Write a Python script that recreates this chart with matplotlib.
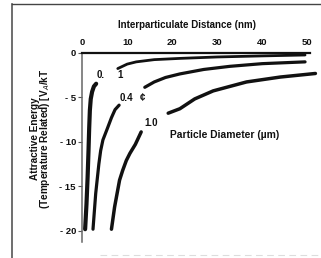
import matplotlib
matplotlib.use("Agg")
import matplotlib.pyplot as plt
from matplotlib.lines import Line2D

plt.rcParams['font.family'] = ['Liberation Sans', 'DejaVu Sans']

# interparticle distance (nm) and attractive energy (kT)
# each curve is drawn in two pieces with a gap for its label
h_01_lo = [3.1, 2.6, 2.2, 1.9, 1.7, 1.55, 1.4, 1.2, 0.95, 0.65]
v_01_lo = [-3.5, -3.8, -4.4, -5.2, -6.5, -8.5, -11.0, -14.0, -17.0, -19.8]
h_01_hi = [7.9, 10.0, 12.0, 16.0, 21.7, 30.0, 40.0, 49.5]
v_01_hi = [-1.8, -1.3, -1.05, -0.8, -0.66, -0.5, -0.38, -0.28]

h_04_lo = [8.2, 7.3, 6.5, 5.6, 4.6, 4.1, 3.7, 3.0, 2.4]
v_04_lo = [-5.9, -6.4, -7.3, -8.5, -9.8, -11.0, -12.5, -15.8, -19.8]
h_04_hi = [13.9, 16.0, 18.5, 21.7, 27.0, 32.8, 40.0, 49.5]
v_04_hi = [-3.9, -3.3, -2.8, -2.4, -1.9, -1.55, -1.25, -1.05]

h_10_lo = [13.1, 11.8, 10.6, 9.8, 9.0, 8.3, 7.2, 6.5]
v_10_lo = [-8.9, -10.3, -11.3, -12.1, -13.2, -14.3, -17.3, -19.8]
h_10_hi = [19.1, 21.7, 25.0, 29.1, 36.5, 44.0, 51.8]
v_10_hi = [-6.8, -6.3, -5.2, -4.3, -3.3, -2.75, -2.35]

xticks = [0, 10, 20, 30, 40, 50]
yticks = [0, -5, -10, -15, -20]
ytick_labels = ['0', '- 5', '- 10', '- 15', '- 20']

W, H = 321, 258
fig = plt.figure(figsize=(W / 100, H / 100), dpi=100)
ax = fig.add_axes([82.2 / W, 1 - 241.7 / H, (310 - 82.2) / W, (241.7 - 52.5) / H])

ink = '#111111'
for hx, vy, lw in [(h_01_lo, v_01_lo, 3.0), (h_01_hi, v_01_hi, 2.0),
                   (h_04_lo, v_04_lo, 2.3), (h_04_hi, v_04_hi, 2.3),
                   (h_10_lo, v_10_lo, 2.5), (h_10_hi, v_10_hi, 2.5)]:
    ax.plot(hx, vy, color=ink, lw=lw, solid_capstyle='round',
            solid_joinstyle='round', clip_on=False)

ax.set_xlim(0, 50.6)
ax.set_ylim(-21.2, 0)
ax.xaxis.tick_top()
ax.set_xticks(xticks)
ax.set_yticks(yticks)
ax.set_yticklabels(ytick_labels)
ax.tick_params(axis='x', length=0, pad=4, labelsize=6.8, labelcolor=ink)
ax.tick_params(axis='y', length=3, width=0.8, color='#555555', pad=1.5,
               labelsize=6.8, labelcolor=ink)
for lab in ax.get_xticklabels() + ax.get_yticklabels():
    lab.set_fontweight('bold')

for s in ['right', 'bottom']:
    ax.spines[s].set_visible(False)
ax.spines['top'].set_linewidth(1.6)
ax.spines['top'].set_color(ink)
ax.spines['left'].set_linewidth(1.1)
ax.spines['left'].set_color('#666666')

# curve labels
kw = dict(fontsize=7, fontweight='bold', color=ink, ha='center', va='center')
ax.text(4.2, -2.5, '0.', **kw)
ax.text(8.5, -2.5, '1', **kw)
ax.text(9.8, -5.1, '0.4', **kw)
ax.text(13.4, -5.1, '¢', **kw)
ax.text(15.4, -7.9, '1.0', **kw)
ax.text(19.5, -9.3, 'Particle Diameter (\u00b5m)', fontsize=7.4, fontweight='bold',
        color=ink, ha='left', va='center')

fig.text(187 / W, 1 - 25 / H, 'Interparticulate Distance (nm)', fontsize=7,
         fontweight='bold', color=ink, ha='center', va='center')
fig.text(35 / W, 1 - 139 / H, 'Attractive Energy', fontsize=7.2, fontweight='bold',
         color=ink, ha='center', va='center', rotation=90)
fig.text(45.5 / W, 1 - 139 / H, '(Temperature Related) [V$_A$/kT', fontsize=7.2,
         fontweight='bold', color=ink, ha='center', va='center', rotation=90)

# scanned frame around the figure
fig.add_artist(Line2D([12 / W, 12 / W], [0, 1 - 4 / H], color='#555555', lw=1.2))
fig.add_artist(Line2D([12 / W, 1], [1 - 4 / H, 1 - 4 / H], color='#444444', lw=1.0))
fig.add_artist(Line2D([100 / W, 1], [1 - 255 / H, 1 - 255 / H], color='#dddddd',
                      lw=0.8, ls=(0, (6, 4))))

fig.savefig('out.png', dpi=100)
